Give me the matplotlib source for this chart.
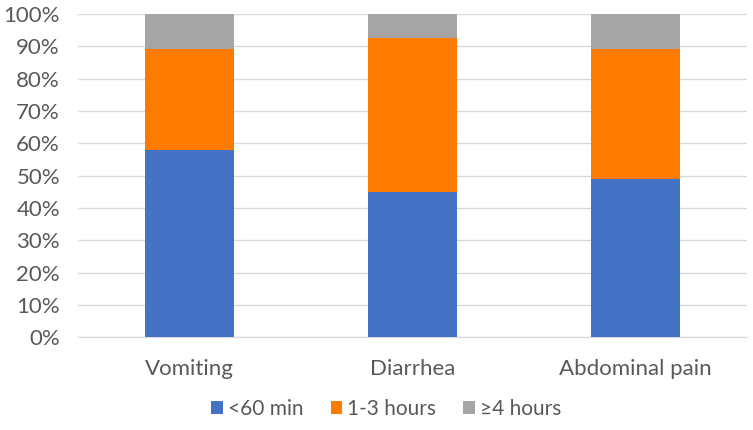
import numpy as np
import matplotlib
matplotlib.use('Agg')
import matplotlib.pyplot as plt
from matplotlib.ticker import PercentFormatter

plt.rcParams['font.family'] = ['Lato', 'DejaVu Sans']

categories = ['Vomiting', 'Diarrhea', 'Abdominal pain']
series_names = ['<60 min', '1-3 hours', '\u22654 hours']
under_60 = [58.0, 45.0, 49.0]
one_to_three = [31.3, 47.5, 40.3]
four_plus = [10.7, 7.5, 10.7]
colours = ['#4472C4', '#FF7B00', '#A5A5A5']

fig = plt.figure(figsize=(7.53, 4.30), dpi=100)
ax = fig.add_axes([0.1036, 0.216, 0.888, 0.751])

x = np.arange(len(categories))
bottom = np.zeros(len(categories))
for name, vals, c in zip(series_names, [under_60, one_to_three, four_plus], colours):
    ax.bar(x, vals, width=0.4, bottom=bottom, color=c, label=name, zorder=3)
    bottom += np.array(vals)

ax.set_xlim(-0.5, len(categories) - 0.5)
ax.set_ylim(0, 100)
ax.set_yticks(np.arange(0, 101, 10))
ax.yaxis.set_major_formatter(PercentFormatter(decimals=0))
ax.set_xticks(x)
ax.set_xticklabels(categories)

ax.grid(axis='y', color='#D9D9D9', linewidth=1, zorder=0)
for s in ['top', 'right', 'left']:
    ax.spines[s].set_visible(False)
ax.spines['bottom'].set_color('#D9D9D9')
ax.tick_params(axis='both', length=0, labelsize=16, colors='#595959')
ax.tick_params(axis='x', pad=16)
ax.tick_params(axis='y', pad=13)

fig.legend(loc='lower center', bbox_to_anchor=(0.513, -0.018), ncol=3, frameon=False,
           fontsize=15, handlelength=0.55, handleheight=0.55, handletextpad=0.25,
           columnspacing=1.3, labelcolor='#595959')

plt.savefig('out.png', dpi=100)
